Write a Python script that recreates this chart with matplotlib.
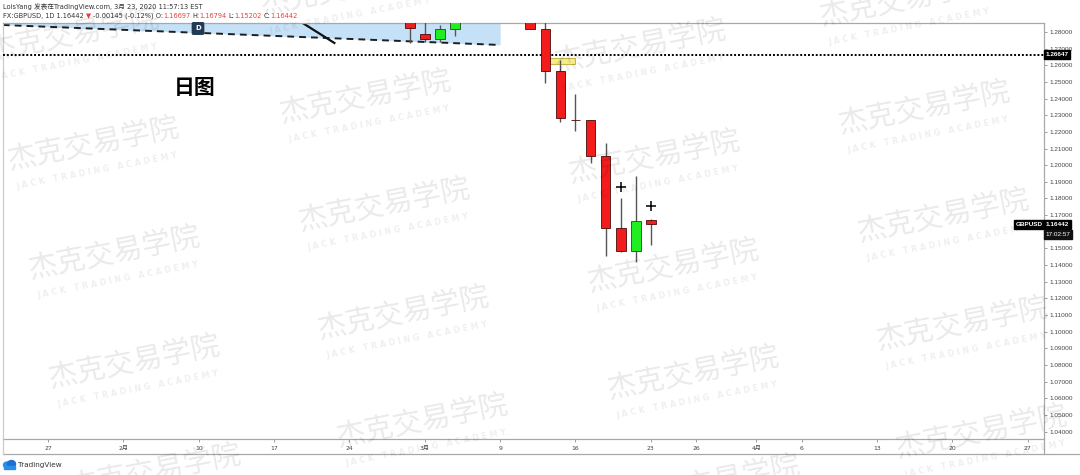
import matplotlib.pyplot as plt
import matplotlib.patches as mpatches
from matplotlib.lines import Line2D
import numpy as np

plt.rcParams['font.family'] = ['DejaVu Sans', 'Noto Sans CJK SC']

W, H = 1080, 475

# daily GBPUSD bars, x = trading-day index (0 = Jan 27, 2020)
bar_idx = [24, 25, 26, 27, 32, 33, 34, 35, 36, 37, 38, 39, 40]
opens = [1.2880, 1.2788, 1.2758, 1.2818, 1.2900, 1.2818, 1.2565, 1.2273, 1.2271, 1.2054, 1.1621, 1.1483, 1.16697]
highs = [1.2890, 1.2880, 1.2842, 1.2880, 1.2910, 1.2880, 1.2630, 1.2427, 1.2271, 1.2133, 1.1800, 1.1934, 1.16794]
lows = [1.2734, 1.2740, 1.2740, 1.2776, 1.2815, 1.2493, 1.2259, 1.2205, 1.2012, 1.1453, 1.1477, 1.1417, 1.15202]
closes = [1.2824, 1.2758, 1.2818, 1.2870, 1.2818, 1.2565, 1.2283, 1.2270, 1.2054, 1.1621, 1.1483, 1.1664, 1.16442]

date_ticks = [0, 5, 10, 15, 20, 25, 30, 35, 40, 43, 47, 50, 55, 60, 65]
date_labels = ['27', '2月', '10', '17', '24', '3月', '9', '16', '23', '26', '4月', '6', '13', '20', '27']
price_ticks = [1.04, 1.05, 1.06, 1.07, 1.08, 1.09, 1.10, 1.11, 1.12, 1.13, 1.14, 1.15, 1.16,
               1.17, 1.18, 1.19, 1.20, 1.21, 1.22, 1.23, 1.24, 1.25, 1.26, 1.27, 1.28]

# drawings on the chart
level_price = 1.26647
last_price = 1.16442
channel_x = [-3.0, 30.0]
channel_y = [1.2842, 1.2722]
trend_x = [16.0, 19.0]
trend_y = [1.2905, 1.2734]
zone_x = [33.3, 35.0]
zone_y = [1.2608, 1.2642]
cross_x = [38, 40]
cross_y = [1.1868, 1.1754]

RED, GREEN = '#f31c1c', '#21ee21'
GRID = '#a8a8a8'


def fx(x):
    return x / W


def fy(y):
    return 1 - y / H


fig = plt.figure(figsize=(W / 100, H / 100), dpi=100)
ax = fig.add_axes([fx(3), fy(439), (1044 - 3) / W, (439 - 23) / H])
ax.set_xlim(-2.99, 66.09)
ax.set_ylim(1.0355, 1.2854)

# channel shading + dashed lower edge
ax.fill_between(channel_x, channel_y, [1.30, 1.30], color='#c5e1f8', lw=0, zorder=1)
ax.plot(channel_x, channel_y, color='#1e1e1e', lw=1.4, dashes=(3.5, 2.6), zorder=2)
ax.plot(trend_x, trend_y, color='#111111', lw=1.6, zorder=2)
ax.text(9.95, 1.2821, 'D', color='white', fontsize=5, fontweight='bold', ha='center', va='center',
        bbox=dict(boxstyle='round,pad=0.4,rounding_size=0.15', fc='#233a55', ec='#233a55'), zorder=6)

# horizontal level
ax.axhline(level_price, color='black', lw=1.4, dashes=(1, 1), zorder=3)

# yellow zone
ax.add_patch(mpatches.Rectangle((zone_x[0], zone_y[0]), zone_x[1] - zone_x[0], zone_y[1] - zone_y[0],
                                fc='#f6ec86', ec='#c4b44a', lw=0.8, zorder=3))

# candles
o = np.array(opens)
c = np.array(closes)
up = c >= o
ax.vlines(bar_idx, lows, highs, color='#555555', lw=1.0, zorder=4)
body_h = np.maximum(np.abs(c - o), 0.00025)
ax.bar(bar_idx, body_h, bottom=np.minimum(o, c), width=0.64,
       color=[GREEN if u else RED for u in up],
       edgecolor=['#145214' if u else '#4a0a0a' for u in up], lw=0.6, zorder=5)
ax.plot(cross_x, cross_y, '+', color='black', ms=6.5, mew=1.1, zorder=6)

ax.text(9.75, 1.2469, '日图', fontsize=15, fontweight='bold', family='Noto Sans CJK SC',
        ha='center', va='center', zorder=6)

# axes styling
for s in ax.spines.values():
    s.set_color(GRID)
    s.set_linewidth(0.9)
ax.spines['left'].set_color('#cccccc')
ax.set_xticks(date_ticks)
ax.set_xticklabels(date_labels)
ax.tick_params(axis='x', length=2, width=0.5, color='#777777', labelsize=4.4, pad=3, labelcolor='#444444')
ax.yaxis.tick_right()
ax.set_yticks(price_ticks)
# 1.16000 sits under the countdown box, as in the original
ax.set_yticklabels(['' if abs(p - 1.16) < 1e-9 else '%.5f' % p for p in price_ticks], family='Liberation Sans')
ax.tick_params(axis='y', length=2, width=0.5, color='#777777', labelsize=4.6, pad=2, labelcolor='#444444')

# price labels on the right scale
lbl = dict(transform=ax.get_yaxis_transform(), color='white', fontsize=4.6, family='Liberation Sans',
           va='center', clip_on=False, zorder=20)
ax.text(1.0015, level_price, '%.5f' % level_price, ha='left', fontweight='bold',
        bbox=dict(boxstyle='square,pad=0.3', fc='black', ec='black'), **lbl)
ax.text(1.0015, last_price, '%.5f' % last_price, ha='left', fontweight='bold',
        bbox=dict(boxstyle='square,pad=0.3', fc='black', ec='black'), **lbl)
ax.text(0.9985, last_price, 'GBPUSD', ha='right', fontweight='bold',
        bbox=dict(boxstyle='square,pad=0.3', fc='black', ec='black'), **lbl)
ax.text(1.0015, last_price - 0.0059, '17:02:57', ha='left',
        bbox=dict(boxstyle='square,pad=0.3', fc='#111111', ec='#111111'), **lbl)

# date-scale frame
fig.add_artist(Line2D([fx(3), fx(1080)], [fy(454), fy(454)], transform=fig.transFigure, color=GRID, lw=0.9))
fig.add_artist(Line2D([fx(3), fx(3)], [fy(439), fy(454)], transform=fig.transFigure, color='#cccccc', lw=0.9))
fig.add_artist(Line2D([fx(1044), fx(1044)], [fy(439), fy(454)], transform=fig.transFigure, color=GRID, lw=0.9))

# header
dark, red = '#333333', '#e8403a'
fig.text(fx(3), fy(7), 'LoisYang 发表在TradingView.com, 3月 23, 2020 11:57:13 EST', fontsize=4.8,
         color=dark, va='center')
segs = [('FX:GBPUSD, 1D 1.16442', dark), ('▼', red), ('-0.00145 (-0.12%) O:', dark), ('1.16697', red),
        ('H:', dark), ('1.16794', red), ('L:', dark), ('1.15202', red), ('C:', dark), ('1.16442', red)]
prev = fig.text(fx(3), fy(16), segs[0][0], fontsize=4.8, color=segs[0][1], va='center')
for s, col in segs[1:]:
    gap = 0 if s[0].isdigit() else 1.4
    prev = ax.annotate(s, xy=(1, 0), xycoords=prev, xytext=(gap, 0), textcoords='offset points',
                       fontsize=4.8, color=col, va='bottom', annotation_clip=False)

# TradingView logo
fig.add_artist(mpatches.Ellipse((fx(7), fy(465)), 7 / W, 6 / H, transform=fig.transFigure, color='#2a8fe8'))
fig.add_artist(mpatches.Ellipse((fx(11.5), fy(464)), 8 / W, 7 / H, transform=fig.transFigure, color='#1f6fd0'))
fig.add_artist(mpatches.Rectangle((fx(4), fy(468.5)), 11 / W, 3 / H, transform=fig.transFigure, color='#2a8fe8'))
fig.text(fx(17.5), fy(465), 'TradingView', fontsize=5.2, color='#333333', va='center')

# watermarks (pixel centres of the Chinese line)
marks = [(73, 35), (93, 144), (114, 253), (134, 362), (155, 471),
         (346, -11), (365, 97), (384, 205), (403, 313), (422, 421),
         (640, 46), (654, 157), (673, 266), (693, 373), (714, 482),
         (905, 0), (924, 108), (943, 216), (962, 324), (981, 432)]
for mx, my in marks:
    fig.text(fx(mx), fy(my), '杰克交易学院', fontsize=21, family='Noto Sans CJK SC',
             color='black', alpha=0.085, rotation=11, rotation_mode='anchor', ha='center', va='center', zorder=30)
    fig.text(fx(mx + 4), fy(my + 27), 'J A C K   T R A D I N G   A C A D E M Y', fontsize=5.8,
             family='DejaVu Sans', fontweight='bold', color='black', alpha=0.065, rotation=11,
             rotation_mode='anchor', ha='center', va='center', zorder=30)

fig.savefig('out.png', dpi=100)
